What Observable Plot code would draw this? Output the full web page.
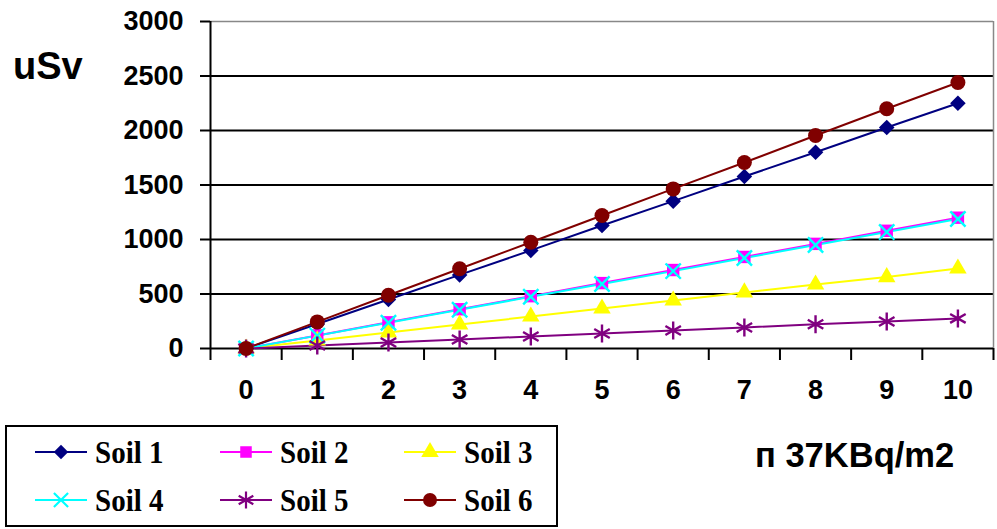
<!DOCTYPE html>
<html>
<head>
<meta charset="utf-8">
<script src="https://cdn.jsdelivr.net/npm/d3@7"></script>
<script src="https://cdn.jsdelivr.net/npm/@observablehq/plot@0.6"></script>
<style>
  html, body { margin: 0; padding: 0; background: #fff; }
  #wrap { position: relative; width: 997px; height: 529px; overflow: hidden; }
  .lab { position: absolute; font-family: "Liberation Sans", Arial, sans-serif; font-weight: bold; color: #000; white-space: nowrap; line-height: 1; }
  #legend { position: absolute; left: 5px; top: 425px; width: 549px; height: 98px; border: 2px solid #000; box-sizing: content-box; }
  #legend .item { position: absolute; height: 30px; display: flex; align-items: center; font-family: "Liberation Serif", "Times New Roman", serif; font-weight: bold; font-size: 29px; line-height: 1; }
  #legend .item span { display: inline-block; transform: scaleY(1.12); }
</style>
</head>
<body>
<div id="wrap"></div>
<script>
// ---- data ----
const categories = [0, 1, 2, 3, 4, 5, 6, 7, 8, 9, 10];
const seriesNames = ["Soil 1", "Soil 2", "Soil 3", "Soil 4", "Soil 5", "Soil 6"];
const soil1 = [0, 225, 450, 675, 900, 1128, 1352, 1578, 1800, 2027, 2250];
const soil2 = [0, 120, 240, 360, 480, 600, 720, 840, 960, 1080, 1200];
const soil3 = [0, 73, 147, 220, 293, 367, 440, 514, 587, 655, 734];
const soil4 = [0, 118, 237, 355, 474, 592, 710, 830, 950, 1068, 1188];
const soil5 = [0, 27, 55, 83, 110, 138, 165, 193, 222, 248, 276];
const soil6 = [0, 244, 488, 732, 975, 1220, 1464, 1706, 1954, 2200, 2440];
const yTicks = [0, 500, 1000, 1500, 2000, 2500, 3000];
const colors = ["#000080", "#FF00FF", "#FFFF00", "#00FFFF", "#800080", "#800000"];
const symbols = ["diamond2", "square", "triangle", "times", "asterisk", "circle"];
const filled = [true, true, true, false, false, true];
const yLabel = "uSv";
const xLabel = "п 37KBq/m2";

const values = [soil1, soil2, soil3, soil4, soil5, soil6];
const rows = [];
values.forEach((arr, si) => arr.forEach((v, i) => rows.push({series: seriesNames[si], x: categories[i], y: v})));
const boundaries = categories.map(c => c - 0.5).concat([categories[categories.length - 1] + 0.5]);

const markR = {diamond2: 7, square: 7, triangle: 6.5, times: 7, asterisk: 8.5, circle: 7.5};

const seriesMarks = [];
seriesNames.forEach((name, si) => {
  const data = rows.filter(r => r.series === name);
  seriesMarks.push(Plot.line(data, {x: "x", y: "y", stroke: colors[si], strokeWidth: 2}));
});
seriesNames.forEach((name, si) => {
  const data = rows.filter(r => r.series === name);
  const r = markR[symbols[si]];
  seriesMarks.push(Plot.dot(data, filled[si]
    ? {x: "x", y: "y", symbol: () => symbols[si], fill: colors[si], stroke: "none", r}
    : {x: "x", y: "y", symbol: () => symbols[si], stroke: colors[si], strokeWidth: 2.4, fill: "none", r}));
});

const chart = Plot.plot({
  width: 997,
  height: 529,
  marginLeft: 210,
  marginRight: 4,
  marginTop: 21,
  marginBottom: 181,
  style: {fontFamily: "'Liberation Sans', Arial, sans-serif", background: "#fff", overflow: "visible"},
  x: {domain: [boundaries[0], boundaries[boundaries.length - 1]]},
  y: {domain: [0, 3000]},
  symbol: {type: "identity"},
  marks: [
    Plot.ruleY(yTicks.filter(d => d > 0 && d < 3000), {stroke: "#000", strokeWidth: 2}),
    Plot.ruleY([3000], {stroke: "#888", strokeWidth: 1.5}),
    Plot.ruleX([boundaries[boundaries.length - 1]], {stroke: "#888", strokeWidth: 1.5}),
    Plot.axisY({ticks: yTicks, tickSize: 10, tickPadding: 17, tickFormat: d => String(d), fontSize: 27, fontWeight: "bold", label: null, strokeWidth: 2}),
    Plot.axisX({ticks: boundaries, tickSize: 12, tickFormat: () => "", label: null, strokeWidth: 2}),
    Plot.axisX({ticks: categories, tickSize: 0, tickPadding: 31, tickFormat: d => String(d), fontSize: 27, fontWeight: "bold", label: null}),
    Plot.ruleX([boundaries[0]], {stroke: "#000", strokeWidth: 2}),
    Plot.ruleY([0], {stroke: "#000", strokeWidth: 2}),
    ...seriesMarks
  ]
});

const wrap = document.getElementById("wrap");
wrap.appendChild(chart);
chart.style.position = "absolute";
chart.style.left = "0px";
chart.style.top = "0px";

const yl = document.createElement("div");
yl.className = "lab";
yl.textContent = yLabel;
yl.style.cssText += "left:13px; top:47px; font-size:38px;";
wrap.appendChild(yl);

const xl = document.createElement("div");
xl.className = "lab";
xl.textContent = xLabel;
xl.style.cssText += "left:755px; top:438px; font-size:34.5px;";
wrap.appendChild(xl);

// legend
const legend = document.createElement("div");
legend.id = "legend";
wrap.appendChild(legend);
const colX = [28, 213, 397];
const rowY = [10, 58];
const symGen = {
  diamond2: d3.symbolDiamond2, square: d3.symbolSquare, triangle: d3.symbolTriangle,
  times: d3.symbolTimes, asterisk: d3.symbolAsterisk, circle: d3.symbolCircle
};
seriesNames.forEach((name, si) => {
  const col = si % 3, row = Math.floor(si / 3);
  const item = document.createElement("div");
  item.className = "item";
  item.style.left = colX[col] + "px";
  item.style.top = rowY[row] + "px";
  const svg = d3.create("svg").attr("width", 60).attr("height", 30);
  svg.append("line").attr("x1", 0).attr("x2", 52).attr("y1", 15).attr("y2", 15).attr("stroke", colors[si]).attr("stroke-width", 2);
  const r = symbols[si] === "circle" ? 7 : (symbols[si] === "asterisk" ? 8 : 6.5);
  svg.append("path")
    .attr("transform", "translate(26,15)")
    .attr("d", d3.symbol(symGen[symbols[si]], Math.PI * r * r)())
    .attr("fill", filled[si] ? colors[si] : "none")
    .attr("stroke", filled[si] ? "none" : colors[si])
    .attr("stroke-width", 2.2);
  item.appendChild(svg.node());
  const t = document.createElement("span");
  t.textContent = name;
  item.appendChild(t);
  legend.appendChild(item);
});
</script>
</body>
</html>
